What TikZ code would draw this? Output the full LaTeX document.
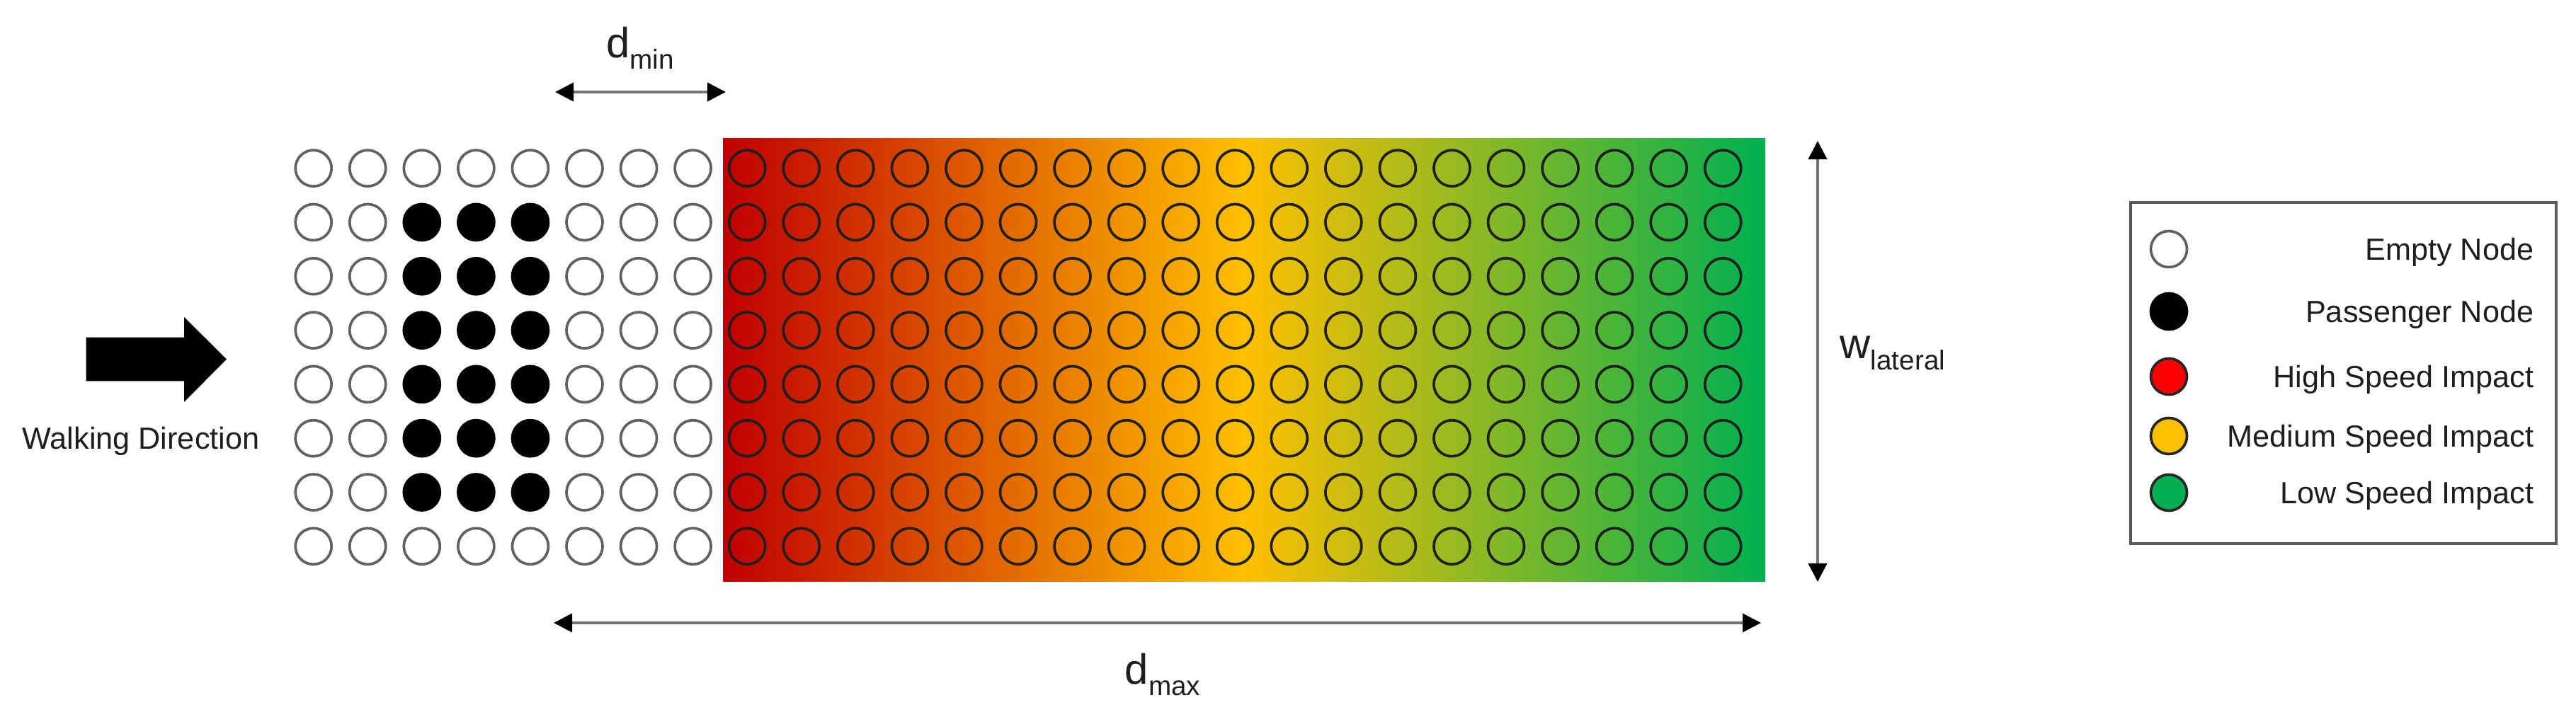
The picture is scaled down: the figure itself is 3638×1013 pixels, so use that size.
\documentclass[tikz,border=0pt]{standalone}
\usepackage{fontspec}
\setmainfont{Liberation Sans}
\usetikzlibrary{arrows.meta}
\definecolor{dred}{HTML}{C00000}
\definecolor{gold}{HTML}{FFC000}
\definecolor{lgreen}{HTML}{00B050}
\definecolor{hred}{HTML}{FF0000}
\definecolor{txt}{HTML}{1E1E1E}
\pgfdeclarehorizontalshading{zoneshade}{100bp}{color(0bp)=(dred); color(25bp)=(dred); color(50bp)=(gold); color(75bp)=(lgreen); color(100bp)=(lgreen)}
\newcommand{\dimlabel}[2]{{\fontsize{17}{20}\selectfont #1\raisebox{-4.4pt}{\fontsize{11}{12}\selectfont #2}}}
\begin{document}
\begin{tikzpicture}[x=0.01cm,y=-0.01cm,
  dot/.style={circle,minimum size=0.51cm,inner sep=0pt,line width=1.05pt},
  emptynode/.style={dot,draw=black!62,fill=white},
  passnode/.style={dot,draw=black,fill=black},
  zonenode/.style={dot,draw=black!88},
  dimarrow/.style={draw=black!55,line width=1.1pt,
    arrows={Triangle[length=0.26cm,width=0.26cm,color=black]-Triangle[length=0.26cm,width=0.26cm,color=black]}},
  lbl/.style={text=txt,font=\fontsize{12.3}{14}\selectfont,inner sep=0pt},
  dimlbl/.style={text=txt,inner sep=0pt}
]
\useasboundingbox (0,0) rectangle (3638,1013);
\fill[white] (0,0) rectangle (3638,1013);

% gradient zone
\shade[shading=zoneshade] (1021,196) rectangle (2493,822);

% grid of nodes
\foreach \r in {1,...,8}{
  \foreach \c in {1,...,27}{
    \pgfmathsetmacro{\xx}{442.7+76.56*(\c-1)}
    \pgfmathsetmacro{\yy}{237.7+76.3*(\r-1)}
    \ifnum\c>8
      \node[zonenode] (n-\r-\c) at (\xx,\yy) {};
    \else
      \ifnum\r>1 \ifnum\r<8 \ifnum\c>2 \ifnum\c<6
        \node[passnode] (n-\r-\c) at (\xx,\yy) {};
      \else
        \node[emptynode] (n-\r-\c) at (\xx,\yy) {};
      \fi \else
        \node[emptynode] (n-\r-\c) at (\xx,\yy) {};
      \fi \else
        \node[emptynode] (n-\r-\c) at (\xx,\yy) {};
      \fi \else
        \node[emptynode] (n-\r-\c) at (\xx,\yy) {};
      \fi
    \fi
  }
}

% walking direction
\fill[black] (121.7,476.7) -- (260,476.7) -- (260,448) -- (320,507.5) -- (260,568) -- (260,538.3) -- (121.7,538.3) -- cycle;
\node[lbl,anchor=base] (walk) at (199,635) {Walking Direction};

% dimension arrows
\coordinate (dminL) at (784,130);
\coordinate (dminR) at (1025,130);
\draw[dimarrow] (dminL) -- (dminR);
\node[dimlbl,anchor=base] (dmin) at (904,82) {\dimlabel{d}{min}};

\coordinate (dmaxL) at (782,880);
\coordinate (dmaxR) at (2487,880);
\draw[dimarrow] (dmaxL) -- (dmaxR);
\node[dimlbl,anchor=base] (dmax) at (1642,967) {\dimlabel{d}{max}};

\coordinate (wT) at (2567,199);
\coordinate (wB) at (2567,822);
\draw[dimarrow] (wT) -- (wB);
\node[dimlbl,anchor=base west] (wlat) at (2598,507) {\dimlabel{w}{lateral}};

% legend
\node[draw=black!65,line width=1.1pt,fill=white,minimum width=6.01cm,minimum height=4.82cm,inner sep=0pt] (legend) at (3309.5,527) {};
\node[emptynode] (le1) at (3063,352) {};
\node[passnode] (le2) at (3063,440) {};
\node[dot,draw=black!85,fill=hred] (le3) at (3063,532) {};
\node[dot,draw=black!85,fill=gold] (le4) at (3063,616) {};
\node[dot,draw=black!85,fill=lgreen] (le5) at (3063,696) {};
\node[lbl,anchor=base east] (lt1) at (3579,368) {Empty Node};
\node[lbl,anchor=base east] (lt2) at (3579,456) {Passenger Node};
\node[lbl,anchor=base east] (lt3) at (3579,548) {High Speed Impact};
\node[lbl,anchor=base east] (lt4) at (3579,632) {Medium Speed Impact};
\node[lbl,anchor=base east] (lt5) at (3579,712) {Low Speed Impact};
\end{tikzpicture}
\end{document}
